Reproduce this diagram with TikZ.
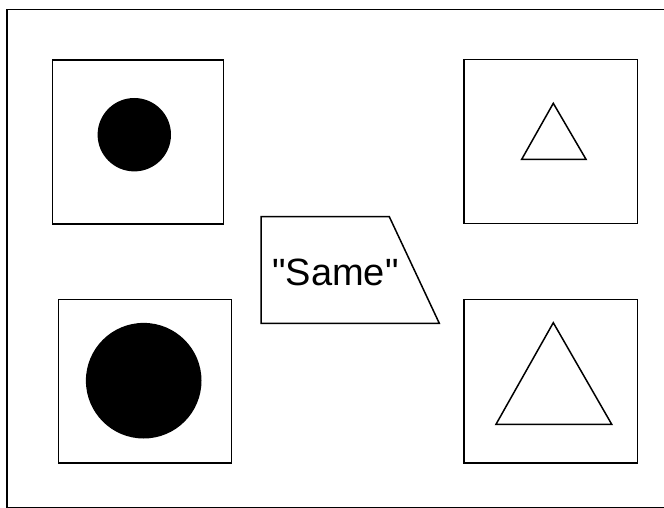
\documentclass[tikz,border=0pt]{standalone}
\usepackage{fontspec}
\setmainfont{Liberation Sans}[Ligatures=TeXOff]
\begin{document}
\begin{tikzpicture}[x=1pt,y=-1pt,
  frame/.style={draw=black,line width=1.5pt,fill=white},
  outline/.style={draw=black,line width=1.5pt,line join=miter},
  dot/.style={fill=black}]
\useasboundingbox (0,0) rectangle (664,508);
\clip (0,0) rectangle (664,508);
\draw[frame] (7,9.3) rectangle (670,507.5);
% boxes
\draw[frame] (52.3,60) coordinate (b1a) rectangle (223.7,224) coordinate (b1b);
\draw[frame] (464,59.5) coordinate (b2a) rectangle (637.7,223.5) coordinate (b2b);
\draw[frame] (58.3,299.3) coordinate (b3a) rectangle (231.7,463) coordinate (b3b);
\draw[frame] (464,299.3) coordinate (b4a) rectangle (637.7,463) coordinate (b4b);
% circles
\fill[dot] (134.3,134.7) circle (36.7);
\fill[dot] (143.7,380.7) circle (57.8);
% triangles
\draw[outline] (553.3,103.3) -- (586,159.3) -- (521.7,159.3) -- cycle;
\draw[outline] (553.3,322.7) -- (611.7,424.3) -- (496,424.3) -- cycle;
% trapezoid
\draw[outline] (261,216.7) -- (389.3,216.7) -- (439.3,323.3) -- (261,323.3) -- cycle;
\node[anchor=base,inner sep=0pt,font=\fontsize{38}{44}\selectfont] (same) at (335.5,285) {"Same"};
\end{tikzpicture}
\end{document}
